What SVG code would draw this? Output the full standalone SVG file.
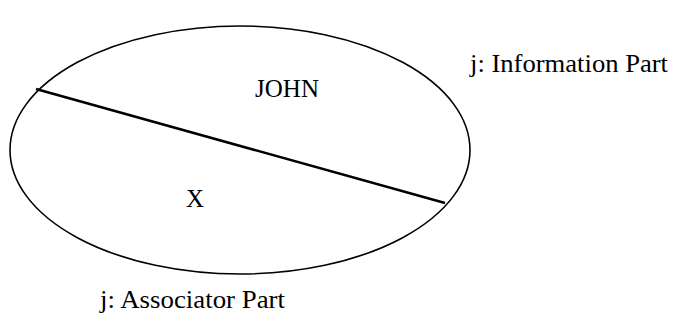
<svg xmlns="http://www.w3.org/2000/svg" width="680" height="322" viewBox="0 0 680 322">
<style>
.t{font-family:"Liberation Serif","Times New Roman",serif;font-size:25px;fill:#000}
</style>
<rect width="680" height="322" fill="#fff"/>
<g id="node-ellipse">
<ellipse cx="240" cy="150" rx="230" ry="124" fill="none" stroke="#000" stroke-width="1.6"/>
<text class="t" x="287" y="97" text-anchor="middle">JOHN</text>
<text class="t" x="195" y="207" text-anchor="middle">X</text>
</g>
<g id="connectors">
<line x1="36" y1="89" x2="445" y2="203" stroke="#000" stroke-width="2.6"/>
</g>
<g id="labels">
<text class="t" x="470" y="72" textLength="198" lengthAdjust="spacingAndGlyphs">j: Information Part</text>
<text class="t" x="100" y="308" textLength="185" lengthAdjust="spacingAndGlyphs">j: Associator Part</text>
</g>
</svg>
